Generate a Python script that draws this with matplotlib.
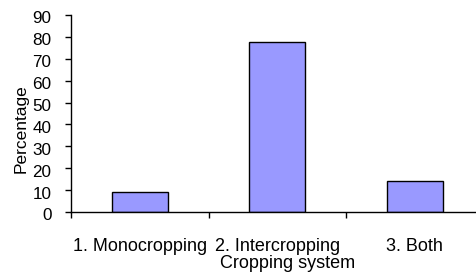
import matplotlib
matplotlib.use("Agg")
import matplotlib.pyplot as plt
import matplotlib.transforms as mtransforms

categories = ["1. Monocropping", "2. Intercropping", "3. Both"]
values = [9.0, 77.5, 14.2]
yticks = [0, 10, 20, 30, 40, 50, 60, 70, 80, 90]

plt.rcParams['font.family'] = ['Liberation Sans', 'DejaVu Sans']

W, H = 477, 276
fig = plt.figure(figsize=(W / 100, H / 100), dpi=100)
left, right, bottom, top = 71, 483.5, 212, 15
ax = fig.add_axes([left / W, 1 - bottom / H, (right - left) / W, (bottom - top) / H])

x = list(range(len(categories)))
ax.bar(x, values, width=0.405, color="#9999FF", edgecolor="black", linewidth=1.0)
ax.set_xlim(-0.5, len(categories) - 0.5)
ax.set_ylim(0, 90)
ax.set_yticks(yticks)
ax.set_yticklabels([str(v) for v in yticks], fontsize=12.3)

ax.set_xticks([i - 0.5 for i in range(len(categories) + 1)])
ax.set_xticklabels([])
ax.set_xticks(x, minor=True)
ax.set_xticklabels(categories, minor=True, fontsize=13)
ax.tick_params(axis="x", which="minor", length=0, pad=18.5)
ax.tick_params(axis="x", which="major", length=4.5, width=1, direction="out")
ax.tick_params(axis="y", length=4, width=1, direction="out", pad=10)

for s in ["top", "right"]:
    ax.spines[s].set_visible(False)
for s in ["left", "bottom"]:
    ax.spines[s].set_linewidth(1.0)
    ax.spines[s].set_color("black")

off = mtransforms.ScaledTranslation(0, -2.5 / 100, fig.dpi_scale_trans)
for lbl in ax.get_yticklabels():
    lbl.set_transform(lbl.get_transform() + off)

fig.text(288 / W, 1 - 267.7 / H, "Cropping system", ha="center", va="baseline", fontsize=13)
fig.text(21 / W, 1 - 129 / H, "Percentage", ha="center", va="center", rotation=90, fontsize=12.5)

fig.savefig("out.png", dpi=100)
